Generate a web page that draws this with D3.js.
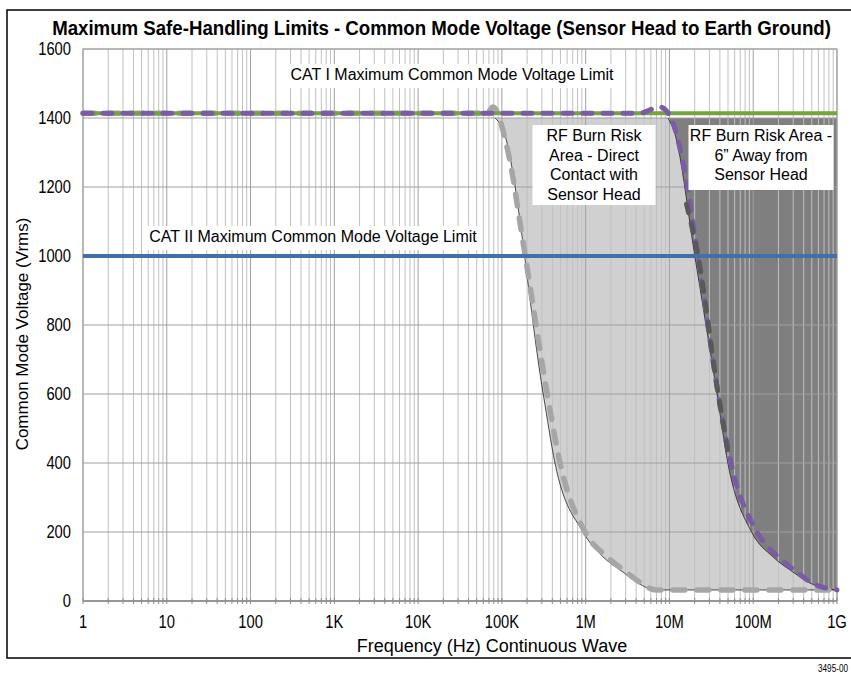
<!DOCTYPE html>
<html>
<head>
  <meta charset="utf-8" />
  <title>Maximum Safe-Handling Limits</title>
  <script src="https://d3js.org/d3.v7.min.js"></script>
  <style>
    body { margin: 0; background: #fff; }
    svg text { font-family: "Liberation Sans", Arial, sans-serif; fill: #000; }
  </style>
</head>
<body>
<svg id="chart" width="851" height="675"></svg>
<script>
  // Limits (Vrms)
  const catILimit = 1414;
  const catIILimit = 1000;

  // x tick labels, one per decade
  const decadeValues = [1, 1e1, 1e2, 1e3, 1e4, 1e5, 1e6, 1e7, 1e8, 1e9];
  const decadeLabels = ["1", "10", "100", "1K", "10K", "100K", "1M", "10M", "100M", "1G"];
  const voltTicks = [0, 200, 400, 600, 800, 1000, 1200, 1400, 1600];

  // Edge of the "direct contact" burn area (thin black line) [Hz, V]
  const directEdge = [
    [8.28e4, 1400], [1.0e5, 1374], [3.1e5, 603], [4.3e5, 400], [9.3e5, 200],
    [1.61e6, 128], [2.79e6, 84], [4.21e6, 52], [6.9e6, 32], [1e9, 32]
  ];
  // Edge of the "6 inch away" burn area
  const awayEdge = [
    [9.6e6, 1400], [1.17e7, 1351], [2.0e7, 1003], [3.68e7, 603], [4.98e7, 400],
    [9.55e7, 200], [1.72e8, 128], [2.98e8, 84], [4.76e8, 52], [1e9, 32]
  ];
  // Dashed curves
  const directDashed = [
    [1, 1414], [6.64e4, 1414], [7.83e4, 1432], [1.15e5, 1316], [1.89e5, 1003],
    [3.46e5, 603], [4.95e5, 400], [9.8e5, 200], [1.8e6, 128], [3.03e6, 84],
    [4.57e6, 52], [6.9e6, 32], [1e9, 32]
  ];
  const awayDashed = [
    [1, 1414], [4.4e6, 1414], [7.7e6, 1432], [1.07e7, 1394], [1.45e7, 1270],
    [2.18e7, 1003], [3.8e7, 603], [5.43e7, 400], [1.11e8, 200], [1.98e8, 128],
    [3.33e8, 84], [5.03e8, 52], [1e9, 32]
  ];
  const awayDashedDark = [
    [1.6e7, 1150], [2.18e7, 1003], [3.8e7, 603], [5.1e7, 420]
  ];

  const svg = d3.select("#chart");

  const x = d3.scaleLog().domain([1, 1e9]).range([83, 837]);
  const y = d3.scaleLinear().domain([0, 1600]).range([601, 49]);

  // outer frame
  svg.append("rect").attr("x", 7).attr("y", 10).attr("width", 860).attr("height", 648)
    .attr("fill", "none").attr("stroke", "#000").attr("stroke-width", 1.5);

  svg.append("text")
    .attr("transform", "translate(441.5,35) scale(0.933,1)")
    .attr("text-anchor", "middle")
    .style("font-size", "20px").style("font-weight", "bold")
    .text("Maximum Safe-Handling Limits - Common Mode Voltage (Sensor Head to Earth Ground)");

  const plot = svg.append("g");
  const curve = d3.curveMonotoneX;

  // shaded areas
  const area = d3.area()
    .x(d => x(d[0])).y0(y(1400)).y1(d => y(d[1]))
    .curve(curve);
  plot.append("path").datum(directEdge).attr("d", area).attr("fill", "#d0d0d0");
  plot.append("path").datum(awayEdge).attr("d", area).attr("fill", "#7f7f7f");

  // grid
  const xTicks = x.ticks();
  plot.selectAll(".vgrid").data(xTicks).join("line")
    .attr("x1", d => x(d)).attr("x2", d => x(d))
    .attr("y1", y(1600)).attr("y2", y(0))
    .attr("stroke", d => decadeValues.includes(d) ? "#a0a0a0" : "#c0c0c0")
    .attr("stroke-width", 1);
  plot.selectAll(".hgrid").data(voltTicks).join("line")
    .attr("x1", x(1)).attr("x2", x(1e9))
    .attr("y1", d => y(d)).attr("y2", d => y(d))
    .attr("stroke", "#a0a0a0").attr("stroke-width", 1);
  plot.append("rect").attr("x", x(1)).attr("y", y(1600))
    .attr("width", x(1e9) - x(1)).attr("height", y(0) - y(1600))
    .attr("fill", "none").attr("stroke", "#a0a0a0");

  // x axis line + ticks
  plot.append("line").attr("x1", x(1)).attr("x2", x(1e9)).attr("y1", y(0)).attr("y2", y(0))
    .attr("stroke", "#8c8c8c").attr("stroke-width", 1.5);
  plot.selectAll(".xtick").data(xTicks).join("line")
    .attr("x1", d => x(d)).attr("x2", d => x(d))
    .attr("y1", y(0) - 3).attr("y2", y(0) + 3)
    .attr("stroke", "#8c8c8c");

  // thin outlines of areas
  const line = d3.line().x(d => x(d[0])).y(d => y(d[1])).curve(curve);
  [directEdge, awayEdge].forEach(data => {
    plot.append("path").datum(data).attr("d", line)
      .attr("fill", "none").attr("stroke", "#222").attr("stroke-width", 0.8);
  });

  // dashed curves and limit lines
  plot.append("path").datum(directDashed).attr("d", line)
    .attr("fill", "none").attr("stroke", "#a6a6a6").attr("stroke-width", 5.5)
    .attr("stroke-linecap", "round").attr("stroke-dasharray", "12,12");

  plot.append("line").attr("x1", x(1)).attr("x2", x(1e9))
    .attr("y1", y(catILimit)).attr("y2", y(catILimit))
    .attr("stroke", "#77a33c").attr("stroke-width", 4);

  plot.append("path").datum(awayDashed).attr("d", line)
    .attr("fill", "none").attr("stroke", "#7b5aa6").attr("stroke-width", 5)
    .attr("stroke-linecap", "round").attr("stroke-dasharray", "9,11");

  plot.append("path").datum(awayDashedDark).attr("d", line)
    .attr("fill", "none").attr("stroke", "#595959").attr("stroke-width", 5)
    .attr("stroke-linecap", "round").attr("stroke-dasharray", "9,11");

  plot.append("line").attr("x1", x(1)).attr("x2", x(1e9))
    .attr("y1", y(catIILimit)).attr("y2", y(catIILimit))
    .attr("stroke", "#4170a8").attr("stroke-width", 4);

  // text boxes
  function textBox(cx, top, w, h, lines, lh) {
    const g = svg.append("g");
    g.append("rect").attr("x", cx - w / 2).attr("y", top).attr("width", w).attr("height", h)
      .attr("fill", "#fff");
    lines.forEach((t, i) => {
      g.append("text").attr("x", cx).attr("y", top + 16 + i * lh)
        .attr("text-anchor", "middle").style("font-size", "16px").text(t);
    });
  }
  textBox(452, 64, 344, 24, ["CAT I Maximum Common Mode Voltage Limit"], 19.5);
  textBox(313, 226, 336, 24, ["CAT II Maximum Common Mode Voltage Limit"], 19.5);
  textBox(594, 125, 123, 80, ["RF Burn Risk", "Area - Direct", "Contact with", "Sensor Head"], 19.5);
  textBox(761, 125, 145, 65, ["RF Burn Risk Area -", "6\u201D Away from", "Sensor Head"], 19.5);

  // axis labels, horizontally condensed like the narrow font of the original
  svg.selectAll(".ylab").data(voltTicks).join("text")
    .attr("transform", d => `translate(71,${y(d) + 6}) scale(0.82,1)`)
    .attr("text-anchor", "end").style("font-size", "18px").text(d => d);
  svg.selectAll(".xlab").data(decadeValues).join("text")
    .attr("transform", d => `translate(${x(d)},628) scale(0.82,1)`)
    .attr("text-anchor", "middle").style("font-size", "18px").text((d, i) => decadeLabels[i]);

  svg.append("text").attr("x", 492).attr("y", 652).attr("text-anchor", "middle")
    .style("font-size", "18px").text("Frequency (Hz) Continuous Wave");
  svg.append("text").attr("transform", "translate(28,334) rotate(-90)")
    .attr("text-anchor", "middle").style("font-size", "17px")
    .text("Common Mode Voltage (Vrms)");

  svg.append("text").attr("transform", "translate(818,672) scale(0.82,1)")
    .style("font-size", "10px").text("3495-00");
</script>
</body>
</html>
